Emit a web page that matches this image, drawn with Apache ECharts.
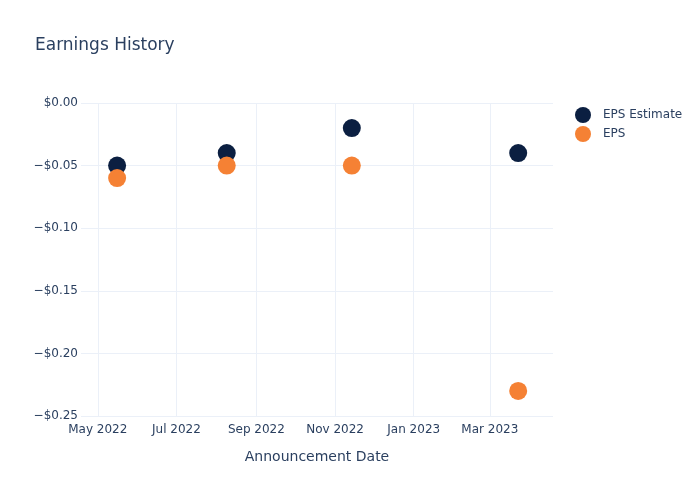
<!DOCTYPE html>
<html>
<head>
<meta charset="utf-8">
<script src="https://cdn.jsdelivr.net/npm/echarts@6/dist/echarts.min.js"></script>
<style>html,body{margin:0;padding:0;background:#fff}#chart{width:700px;height:500px}</style>
</head>
<body>
<div id="chart"></div>
<script>
// data
var dates = ['2022-05-16', '2022-08-09', '2022-11-14', '2023-03-23'];
var epsEstimate = [-0.05, -0.04, -0.02, -0.04];
var eps = [-0.06, -0.05, -0.05, -0.23];
var xTicks = ['2022-05-01', '2022-07-01', '2022-09-01', '2022-11-01', '2023-01-01', '2023-03-01'];
var monthNames = ['Jan', 'Feb', 'Mar', 'Apr', 'May', 'Jun', 'Jul', 'Aug', 'Sep', 'Oct', 'Nov', 'Dec'];

function ts(s) { return new Date(s + 'T00:00:00Z').getTime(); }
function pairs(vals) {
    var out = [];
    for (var i = 0; i < dates.length; i++) out.push([ts(dates[i]), vals[i]]);
    return out;
}

var txt = '#2a3f5f';
var grid = '#ebf0f8';
var font = 'DejaVu Sans';
var myChart = echarts.init(document.getElementById('chart'));

var option = {
    animation: false,
    textStyle: { fontFamily: font },
    title: {
        text: 'Earnings History',
        left: 30, top: 32,
        textStyle: { color: txt, fontSize: 17, fontWeight: 'normal', fontFamily: font }
    },
    legend: {
        orient: 'vertical',
        left: 570, top: 102,
        icon: 'circle',
        itemWidth: 16, itemHeight: 16, itemGap: 3,
        textStyle: { color: txt, fontSize: 12, fontFamily: font, padding: [0, 0, 0, 7] },
        data: ['EPS Estimate', 'EPS']
    },
    grid: { left: 81, right: 147, top: 103, bottom: 84, containLabel: false },
    xAxis: {
        type: 'value',
        min: ts('2022-04-18'),
        max: ts('2023-04-19'),
        name: 'Announcement Date',
        nameLocation: 'middle',
        nameGap: 34,
        nameTextStyle: { color: txt, fontSize: 14, fontFamily: font },
        axisLine: { show: false },
        axisTick: { show: false, customValues: xTicks.map(ts) },
        axisLabel: {
            color: txt, fontSize: 12, margin: 8, fontFamily: font,
            customValues: xTicks.map(ts),
            formatter: function (v) {
                var d = new Date(v);
                return monthNames[d.getUTCMonth()] + ' ' + d.getUTCFullYear();
            }
        },
        splitLine: { show: false }
    },
    yAxis: {
        type: 'value',
        min: -0.25, max: 0, interval: 0.05,
        axisLine: { show: false },
        axisTick: { show: false },
        axisLabel: {
            color: txt, fontSize: 12, margin: 3, fontFamily: font,
            padding: [4, 0, 0, 0],
            formatter: function (v) {
                if (Math.abs(v) < 1e-9) return '$0.00';
                return '\u2212$' + Math.abs(v).toFixed(2);
            }
        },
        splitLine: { show: true, lineStyle: { color: grid, width: 1 } }
    },
    series: [{
        name: 'EPS Estimate',
        type: 'scatter',
        symbolSize: 18,
        itemStyle: { color: '#0b1f41', opacity: 1 },
        data: pairs(epsEstimate),
        markLine: {
            silent: true,
            symbol: 'none',
            label: { show: false },
            lineStyle: { color: grid, type: 'solid', width: 1 },
            z: 0,
            data: xTicks.map(function (t) { return { xAxis: ts(t) }; })
        },
        z: 2
    }, {
        name: 'EPS',
        type: 'scatter',
        symbolSize: 18,
        itemStyle: { color: '#f58134', opacity: 1 },
        data: pairs(eps),
        z: 3
    }]
};

myChart.setOption(option);
</script>
</body>
</html>
